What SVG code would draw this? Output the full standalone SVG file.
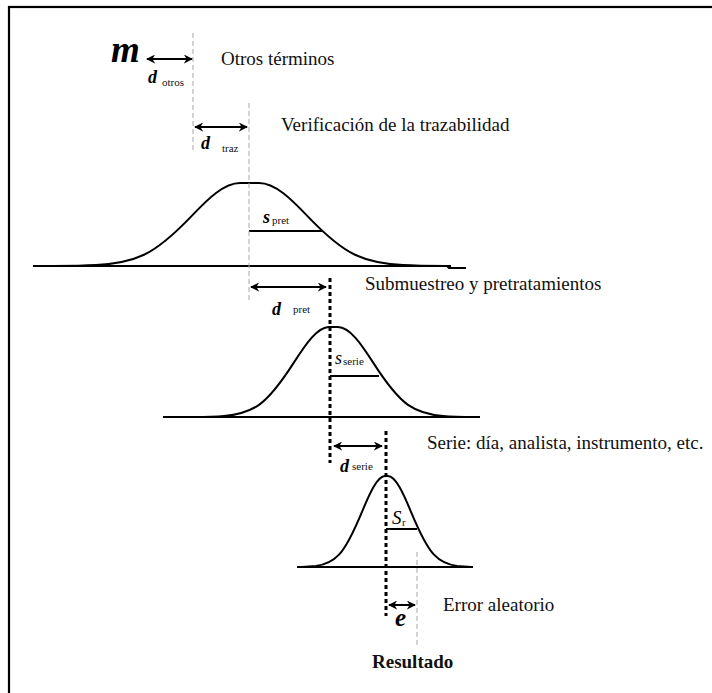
<svg xmlns="http://www.w3.org/2000/svg" width="712" height="693" viewBox="0 0 712 693">
<defs>
<style>
.t{font-family:"Liberation Serif","Times New Roman",serif;font-size:19px;fill:#111}
.mi{font-family:"Liberation Serif","Times New Roman",serif;font-style:italic;font-weight:bold;fill:#000}
.it{font-family:"Liberation Serif","Times New Roman",serif;font-style:italic;fill:#000}
.sub{font-family:"Liberation Serif","Times New Roman",serif;font-size:11px;fill:#111}
.thin{stroke:#a8a8a8;stroke-width:1;stroke-dasharray:5 3;fill:none}
.thick{stroke:#000;stroke-width:3;stroke-dasharray:4 3;fill:none}
.curve{fill:none;stroke:#000;stroke-width:2;stroke-linejoin:round}
.base{stroke:#000;stroke-width:2;fill:none}
.arr{stroke:#000;stroke-width:2;marker-start:url(#ah);marker-end:url(#ah)}
</style>
<marker id="ah" viewBox="0 0 10 10" refX="9" refY="5" markerWidth="9" markerHeight="9" markerUnits="userSpaceOnUse" orient="auto-start-reverse">
<path d="M0,0 L10,5 L0,10 L3,5 z" fill="#000"/>
</marker>
</defs>
<rect width="712" height="693" fill="#fff"/>
<rect id="frame" x="9" y="7" width="720" height="700" fill="none" stroke="#000" stroke-width="2.2"/>

<g id="curve-pret">
<path class="base" d="M33,266 H447 L449,268 H466"/>
<path class="curve" d="M48,266 C64,265.94 80,266 96,265.08 C112,264.16 128,262.26 144,254.77 C160,247.28 176,232.44 192,215.66 C208,198.88 224,183 240,183 L259,183 C275,183 291,198.88 307,215.66 C323,232.44 339,247.28 355,254.77 C371,262.26 387,264.16 403,265.08 C419,266 435,265.94 451,266"/>
<line class="base" x1="249" y1="231" x2="322" y2="231"/>
</g>

<g id="curve-serie">
<line class="base" x1="163" y1="417" x2="480" y2="417"/>
<path class="curve" d="M189,417 C200.67,416.94 212.33,417 224,416 C235.67,415 247.33,412.94 259,404.82 C270.67,396.7 282.33,380.61 294,362.41 C305.67,344.22 317.33,327 329,327 L338,327 C349.67,327 361.33,344.22 373,362.41 C384.67,380.61 396.33,396.7 408,404.82 C419.67,412.94 431.33,415 443,416 C454.67,417 466.33,416.94 478,417"/>
<line class="base" x1="330" y1="376" x2="379" y2="376"/>
</g>

<g id="curve-r">
<line class="base" x1="297" y1="567" x2="473" y2="567"/>
<path class="curve" d="M302,567 L316,566 C323.67,564.98 331.33,562.9 339,554.69 C346.67,546.48 354.33,530.21 362,511.81 C369.67,493.41 377.33,476 385,476 L388,476 C395.67,476 403.33,493.41 411,511.81 C418.67,530.21 426.33,546.48 434,554.69 C441.67,562.9 449.33,564.98 457,565.99 L471,567"/>
<line class="base" x1="386" y1="529" x2="417" y2="529"/>
</g>

<g id="connectors">
<line class="thin" x1="193" y1="33" x2="193" y2="153"/>
<line class="thin" x1="249" y1="103" x2="249" y2="303"/>
<line class="thin" x1="417" y1="552" x2="417" y2="645"/>
<line class="thick" x1="330" y1="278" x2="330" y2="463"/>
<line class="thick" x1="386" y1="431" x2="386" y2="616"/>
<line class="arr" x1="147" y1="59" x2="192" y2="59"/>
<line class="arr" x1="195" y1="127" x2="247" y2="127"/>
<line class="arr" x1="251" y1="287" x2="326" y2="287"/>
<line class="arr" x1="334" y1="446" x2="382" y2="446"/>
<line class="arr" x1="389" y1="605" x2="415" y2="605"/>
</g>

<g id="labels">
<text class="mi" x="111" y="62" font-size="37">m</text>
<text class="mi" x="148" y="83" font-size="18">d</text>
<text class="sub" x="162" y="86">otros</text>
<text class="t" x="221" y="65">Otros términos</text>
<text class="mi" x="201" y="149" font-size="18">d</text>
<text class="sub" x="222" y="152">traz</text>
<text class="t" x="281" y="131">Verificación de la trazabilidad</text>
<text class="mi" x="263" y="223" font-size="18">s</text>
<text class="sub" x="272" y="224">pret</text>
<text class="mi" x="272" y="315" font-size="18">d</text>
<text class="sub" x="293" y="313">pret</text>
<text class="t" x="365" y="290">Submuestreo y pretratamientos</text>
<text class="it" x="335" y="364" font-size="18">s</text>
<text class="sub" x="343" y="365">serie</text>
<text class="mi" x="340" y="472" font-size="18">d</text>
<text class="sub" x="352" y="470">serie</text>
<text class="t" x="427" y="449">Serie: día, analista, instrumento, etc.</text>
<text class="it" x="392" y="524" font-size="19">S</text>
<text class="sub" x="402" y="526">r</text>
<text class="mi" x="395" y="626" font-size="25">e</text>
<text class="t" x="443" y="611">Error aleatorio</text>
<text class="t" x="372" y="668" font-size="20" font-weight="bold">Resultado</text>
</g>
</svg>
